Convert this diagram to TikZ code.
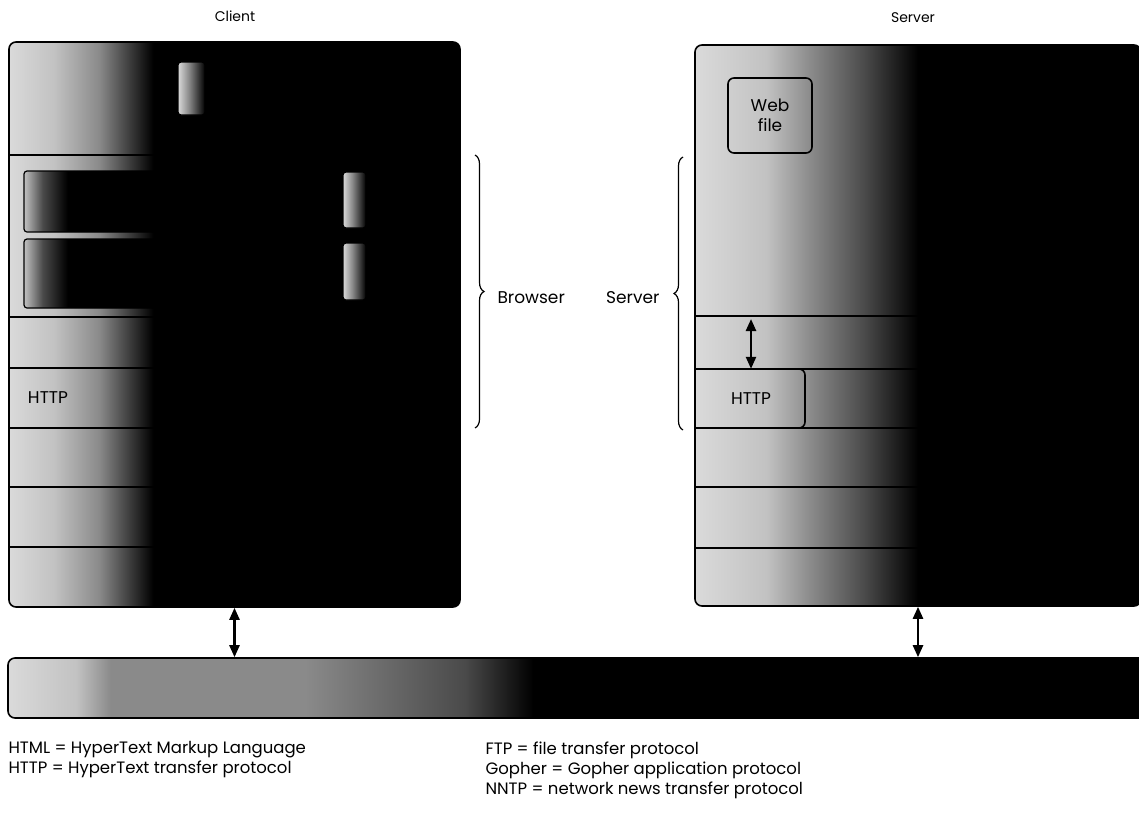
\documentclass[tikz,border=0pt]{standalone}
\usepackage{fontspec}
\setmainfont{Poppins}
\usepackage{tikz}
\usetikzlibrary{arrows.meta,decorations.pathreplacing,positioning}
\definecolor{scanlight}{HTML}{DADADA}
\definecolor{scanpale}{HTML}{C2C2C2}
\definecolor{scanmid}{HTML}{8A8A8A}
\definecolor{scandark}{HTML}{4A4A4A}

\pgfdeclarehorizontalshading{clientfade}{100bp}{color(0bp)=(scanlight); color(25bp)=(scanlight); color(30bp)=(scanpale); color(35bp)=(scanmid); color(41bp)=(black); color(100bp)=(black)}
\pgfdeclarehorizontalshading{serverfade}{100bp}{color(0bp)=(scanlight); color(25bp)=(scanlight); color(33bp)=(scanpale); color(38bp)=(scanmid); color(44bp)=(scandark); color(50bp)=(black); color(100bp)=(black)}
\pgfdeclarehorizontalshading{netfade}{100bp}{color(0bp)=(scanlight); color(25bp)=(scanlight); color(28bp)=(scanpale); color(29.5bp)=(scanmid); color(38bp)=(scanmid); color(45bp)=(scandark); color(48bp)=(black); color(100bp)=(black)}
\pgfdeclarehorizontalshading{tabfade}{100bp}{color(0bp)=(scanlight); color(25bp)=(scanlight); color(45bp)=(scanmid); color(75bp)=(black); color(100bp)=(black)}
\pgfdeclarehorizontalshading{pagefade}{100bp}{color(0bp)=(scanpale); color(25bp)=(scanpale); color(28bp)=(scandark); color(32bp)=(black); color(100bp)=(black)}

\begin{document}
\begin{tikzpicture}[x=1pt,y=-1pt,
    panel/.style={draw, line width=1.6pt, rounded corners=7pt, inner sep=0pt, shade},
    tab/.style={draw, line width=1.2pt, rounded corners=3pt, shade, shading=tabfade},
    layer/.style={line width=1.6pt},
    duplex/.style={{Triangle[length=12pt,width=10pt]}-{Triangle[length=12pt,width=10pt]}, line width=2.4pt},
    brace/.style={decorate, decoration={brace, amplitude=9pt}, line width=1.2pt},
    lbl/.style={font=\fontsize{17}{20}\selectfont},
    key/.style={font=\fontsize{16.5}{20}\selectfont, anchor=north west, align=left},
    title/.style={font=\fontsize{14}{16}\selectfont}]
  \useasboundingbox[fill=white] (0,0) rectangle (1139,814);

  \node[title] (clienttitle) at (235,16) {Client};
  \node[title] (servertitle) at (913,18) {Server};

  \node[panel, shading=clientfade, minimum width=451pt, minimum height=565pt] (client) at (234.5,324.5) {};
  \node[panel, shading=serverfade, minimum width=446pt, minimum height=561pt] (server) at (918,325.5) {};
  \node[panel, shading=netfade, minimum width=1142pt, minimum height=60pt] (net) at (579,688) {};

  \foreach \y in {155,317,368,428,487,547}
    \draw[layer] (9,\y) -- (460,\y);
  \foreach \y in {316,369,428,487,548}
    \draw[layer] (695,\y) -- (1141,\y);

  \draw[tab] (178,62) rectangle (205,115);
  \draw[tab, shading=pagefade] (24,171) rectangle (335,232);
  \draw[tab, shading=pagefade] (24,239) rectangle (335,308);
  \draw[tab] (343,172) rectangle (366,228);
  \draw[tab] (343,243) rectangle (366,300);
  \node[lbl] (chttp) at (48,398) {HTTP};

  \node[lbl, draw, line width=1.6pt, rounded corners=6pt, align=center,
    minimum width=84pt, minimum height=75pt] (webfile) at (770,115.5) {Web\\file};
  \draw[layer, rounded corners=6pt] (695,369) -| (805,428) -- (695,428);
  \node[lbl, minimum height=59pt, inner sep=0pt] (shttp) at (751,398.5) {HTTP};
  \coordinate (hop) at (751,319);
  \draw[duplex] (shttp.north) -- (hop);

  \draw[duplex] (client.south) -- (client.south |- net.north);
  \draw[duplex] (server.south) -- (server.south |- net.north);

  \draw[brace] (475,155) -- (475,428);
  \draw[brace] (683,430) -- (683,157);
  \node[lbl, anchor=west] (browser) at (494,298) {Browser};
  \node[lbl, anchor=east] (serverside) at (663,298) {Server};

  \node[key] (keyleft) at (5,738) {HTML = HyperText Markup Language\\HTTP = HyperText transfer protocol};
  \node[key] (keyright) at (482,738) {FTP = file transfer protocol\\Gopher = Gopher application protocol\\NNTP = network news transfer protocol};
\end{tikzpicture}
\end{document}
